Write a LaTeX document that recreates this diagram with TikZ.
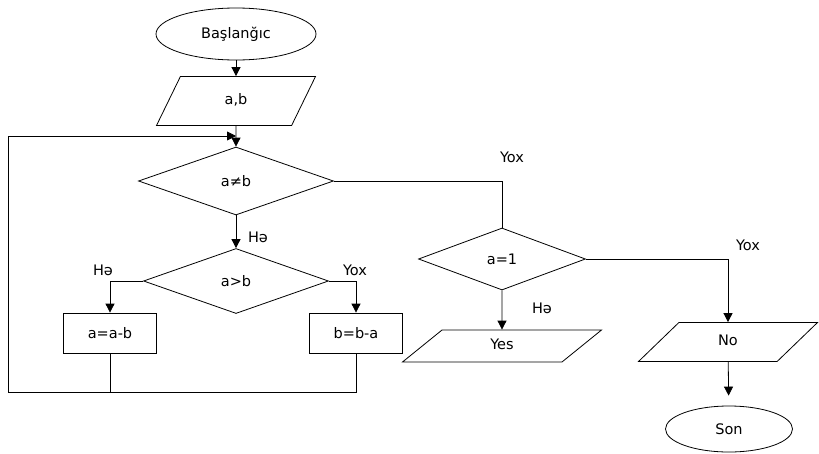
\documentclass[tikz,border=0pt]{standalone}
\usepackage{fontspec}
\setmainfont{DejaVu Sans}
\usetikzlibrary{shapes.geometric,arrows.meta}
\begin{document}
\begin{tikzpicture}[x=1pt, y=-1pt, line width=0.8pt,
    font=\fontsize{14.5}{17}\selectfont,
    ovalo/.style={draw, ellipse, inner sep=0pt},
    entrada/.style={draw, trapezium, trapezium stretches body, inner xsep=0pt,
                    text height=10pt, text depth=4pt},
    decision/.style={draw, diamond, inner sep=0pt},
    proceso/.style={draw, rectangle, inner sep=0pt},
    flecha/.style={-{Triangle[length=9pt,width=9pt]}}]
    \useasboundingbox (0,0) rectangle (819,453);
    % Inicio
    \node[ovalo, minimum width=160pt, minimum height=52pt] (inicio) at (236,34) {Başlanğıc};
    % Entrada a,b
    \node[entrada, trapezium left angle=64, trapezium right angle=116,
          minimum width=159pt, inner ysep=17.5pt] (ab) at (236,101) {a,b};
    % Condiciones
    \node[decision, minimum width=195pt, minimum height=68pt] (neq) at (236,181) {a≠b};
    \node[decision, minimum width=185pt, minimum height=65pt] (gt) at (236,281) {a>b};
    \node[decision, minimum width=167pt, minimum height=62pt] (uno) at (502,259) {a=1};
    % Procesos
    \node[proceso, minimum width=93pt, minimum height=40pt] (resta1) at (110,333) {a=a-b};
    \node[proceso, minimum width=93pt, minimum height=40pt] (resta2) at (356,333) {b=b-a};
    % Salidas
    \node[entrada, trapezium left angle=39, trapezium right angle=141,
          minimum width=199pt, inner ysep=9pt] (si) at (502,346) {Yes};
    \node[entrada, trapezium left angle=44, trapezium right angle=136,
          minimum width=179pt, inner ysep=12.5pt] (no) at (728,342) {No};
    % Fin
    \node[ovalo, minimum width=127pt, minimum height=46pt] (fin) at (729,429) {Son};
    % Etiquetas
    \node (y1) at (512,157) {Yox};
    \node (h1) at (258,237) {Hə};
    \node (h2) at (103,270) {Hə};
    \node (y2) at (355,270) {Yox};
    \node (y3) at (748,245) {Yox};
    \node (h3) at (542,308) {Hə};
    % Puntos del ciclo
    \coordinate (giris) at (236,136);
    \coordinate (retorno) at (8,392);
    % Flechas
    \draw[flecha] (inicio) -- (ab);
    \draw[flecha] (ab) -- (neq);
    \draw[flecha] (neq) -- (gt);
    \draw[flecha] (gt.west) -| (resta1.north);
    \draw[flecha] (gt.east) -| (resta2.north);
    \draw (neq.east) -| (uno.north);
    \draw[flecha] (uno.south) -- (si);
    \draw[flecha] (uno.east) -| (no.north);
    \draw[flecha, shorten >=10pt] (no) -- (fin);
    % Ciclo de vuelta
    \draw (resta1.south) |- (retorno);
    \draw (resta2.south) |- (retorno);
    \draw[flecha] (retorno) |- (giris);
\end{tikzpicture}
\end{document}
